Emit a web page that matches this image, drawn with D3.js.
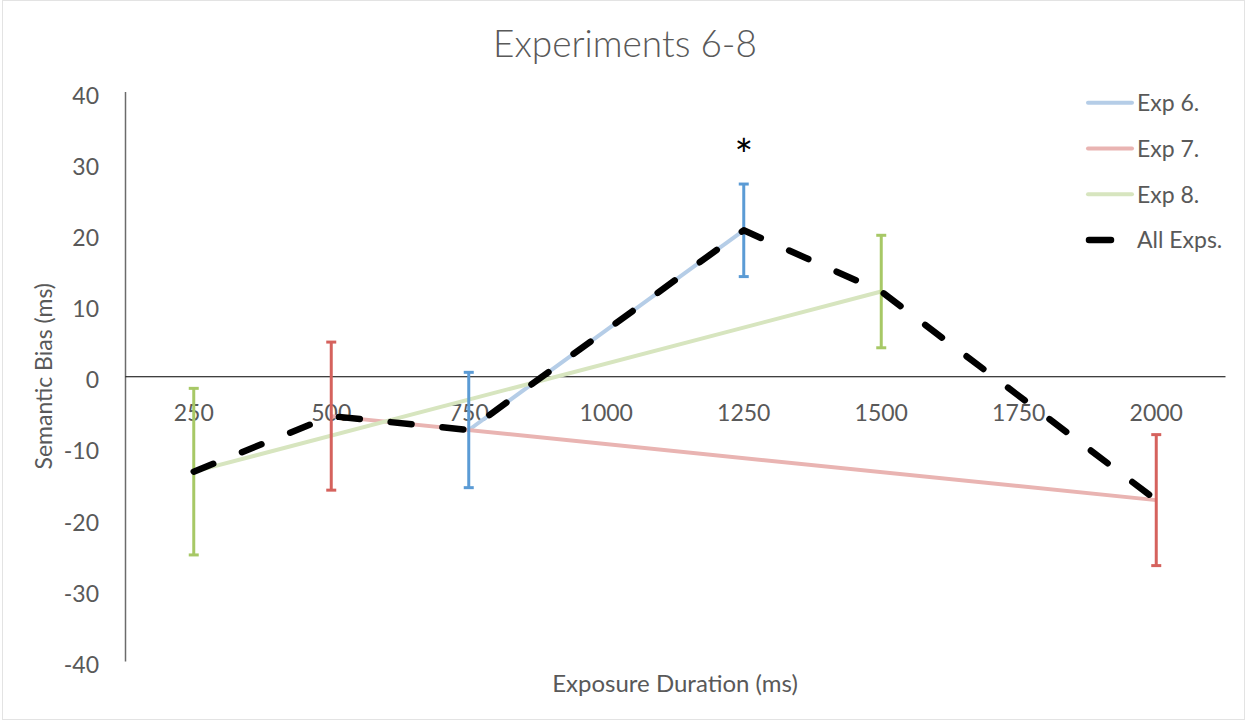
<!DOCTYPE html>
<html>
<head>
<meta charset="utf-8">
<script src="https://cdn.jsdelivr.net/npm/d3@7"></script>
<style>
  body { margin: 0; background: #fff; }
  svg { display: block; font-family: Lato, "Open Sans", sans-serif; }
</style>
</head>
<body>
<svg id="chart" width="1247" height="721"></svg>
<script>
// chart data
const categories = ["250", "500", "750", "1000", "1250", "1500", "1750", "2000"];
const exp6 = [null, null, -7.55, null, 20.5, null, null, null];
const exp6Err = [null, null, 8.1, null, 6.5, null, null, null];
const exp7 = [null, -5.6, null, null, null, null, null, -17.4];
const exp7Err = [null, 10.4, null, null, null, null, null, 9.2];
const exp8 = [-13.4, null, null, null, null, 11.9, null, null];
const exp8Err = [11.7, null, null, null, null, 7.9, null, null];
const allExps = [-13.4, -5.6, -7.55, null, 20.5, 11.9, null, -17.4];
const yTicks = [40, 30, 20, 10, 0, -10, -20, -30, -40];
const seriesNames = ["Exp 6.", "Exp 7.", "Exp 8.", "All Exps."];
const starCategory = "1250";

const svg = d3.select("#chart");
const textColor = "#595959";

// border of chart area
svg.append("rect")
  .attr("x", 2.5).attr("y", 0.5)
  .attr("width", 1242).attr("height", 719)
  .attr("fill", "#fff")
  .attr("stroke", "#e3e3e3");

const x = d3.scaleBand()
  .domain(categories)
  .range([125, 1225]);

const y = d3.scaleLinear()
  .domain([-40, 40])
  .range([661, 91.5]);

const cx = c => x(c) + x.bandwidth() / 2;

// title
svg.append("text")
  .attr("x", 625).attr("y", 57)
  .attr("text-anchor", "middle")
  .attr("font-size", 37)
  .attr("font-weight", 300)
  .attr("fill", textColor)
  .text("Experiments 6-8");

// Y axis
const yAxis = svg.append("g")
  .attr("transform", "translate(125,0)")
  .call(d3.axisLeft(y).tickValues(yTicks).tickFormat(d => String(d)).tickSize(0).tickPadding(26));
yAxis.select(".domain").attr("stroke", "#6b6b6b").attr("stroke-width", 1.5);
yAxis.selectAll("text")
  .attr("font-size", 23)
  .attr("font-family", "Lato, 'Open Sans', sans-serif")
  .attr("fill", textColor)
  .attr("dy", "0.5em");

// X axis on zero line
const xAxis = svg.append("g")
  .attr("transform", `translate(0,${y(0)})`)
  .call(d3.axisBottom(x).tickSize(0).tickSizeOuter(0).tickPadding(0));
xAxis.select(".domain").attr("stroke", "#000").attr("stroke-width", 1.2);
xAxis.selectAll("text")
  .attr("font-size", 23)
  .attr("font-family", "Lato, 'Open Sans', sans-serif")
  .attr("fill", textColor)
  .attr("y", 36)
  .attr("dy", "0.36em");

// axis titles
svg.append("text")
  .attr("x", 675).attr("y", 692)
  .attr("text-anchor", "middle")
  .attr("font-size", 24)
  .attr("fill", textColor)
  .text("Exposure Duration (ms)");

svg.append("text")
  .attr("transform", `translate(52,${(y(40) + y(-40)) / 2}) rotate(-90)`)
  .attr("text-anchor", "middle")
  .attr("font-size", 23)
  .attr("fill", textColor)
  .text("Semantic Bias (ms)");

const series = [
  { name: seriesNames[0], values: exp6, err: exp6Err, line: "#b5cde7", bar: "#5b9bd5" },
  { name: seriesNames[1], values: exp7, err: exp7Err, line: "#e9b4b2", bar: "#d5625d" },
  { name: seriesNames[2], values: exp8, err: exp8Err, line: "#d7e5bf", bar: "#a7c866" }
];

const line = d3.line()
  .x(d => cx(d.c))
  .y(d => y(d.v));

const toPoints = vals => categories
  .map((c, i) => ({ c: c, v: vals[i] }))
  .filter(d => d.v !== null);

series.forEach(s => {
  svg.append("path")
    .datum(toPoints(s.values))
    .attr("fill", "none")
    .attr("stroke", s.line)
    .attr("stroke-width", 4)
    .attr("d", line);
});

// error bars
series.forEach(s => {
  const pts = categories
    .map((c, i) => ({ c: c, v: s.values[i], e: s.err[i] }))
    .filter(d => d.v !== null);
  const g = svg.append("g").attr("stroke", s.bar).attr("stroke-width", 3);
  pts.forEach(d => {
    g.append("line")
      .attr("x1", cx(d.c)).attr("x2", cx(d.c))
      .attr("y1", y(d.v + d.e)).attr("y2", y(d.v - d.e));
    [d.v + d.e, d.v - d.e].forEach(v => {
      g.append("line")
        .attr("x1", cx(d.c) - 5).attr("x2", cx(d.c) + 5)
        .attr("y1", y(v)).attr("y2", y(v));
    });
  });
});

// all experiments, dashed
svg.append("path")
  .datum(toPoints(allExps))
  .attr("fill", "none")
  .attr("stroke", "#000")
  .attr("stroke-width", 6.5)
  .attr("stroke-linecap", "round")
  .attr("stroke-linejoin", "round")
  .attr("stroke-dasharray", "21 31")
  .attr("d", line);

// significance marker
const starIdx = categories.indexOf(starCategory);
svg.append("text")
  .attr("x", cx(starCategory))
  .attr("y", y(exp6[starIdx] + exp6Err[starIdx]) - 13)
  .attr("text-anchor", "middle")
  .attr("font-size", 44)
  .attr("fill", "#000")
  .text("*");

// legend
const legend = svg.append("g");
const legendColors = ["#b5cde7", "#e9b4b2", "#d7e5bf", "#000"];
seriesNames.forEach((n, i) => {
  const ly = 102.7 + i * 45.8;
  if (i < 3) {
    legend.append("line")
      .attr("x1", 1088).attr("x2", 1132)
      .attr("y1", ly).attr("y2", ly)
      .attr("stroke", legendColors[i])
      .attr("stroke-width", 4)
      .attr("stroke-linecap", "round");
  } else {
    legend.append("line")
      .attr("x1", 1089).attr("x2", 1111)
      .attr("y1", ly).attr("y2", ly)
      .attr("stroke", "#000")
      .attr("stroke-width", 6.5)
      .attr("stroke-linecap", "round");
  }
  legend.append("text")
    .attr("x", 1137).attr("y", ly)
    .attr("dy", "0.36em")
    .attr("font-size", 23)
    .attr("fill", textColor)
    .text(n);
});
</script>
</body>
</html>
